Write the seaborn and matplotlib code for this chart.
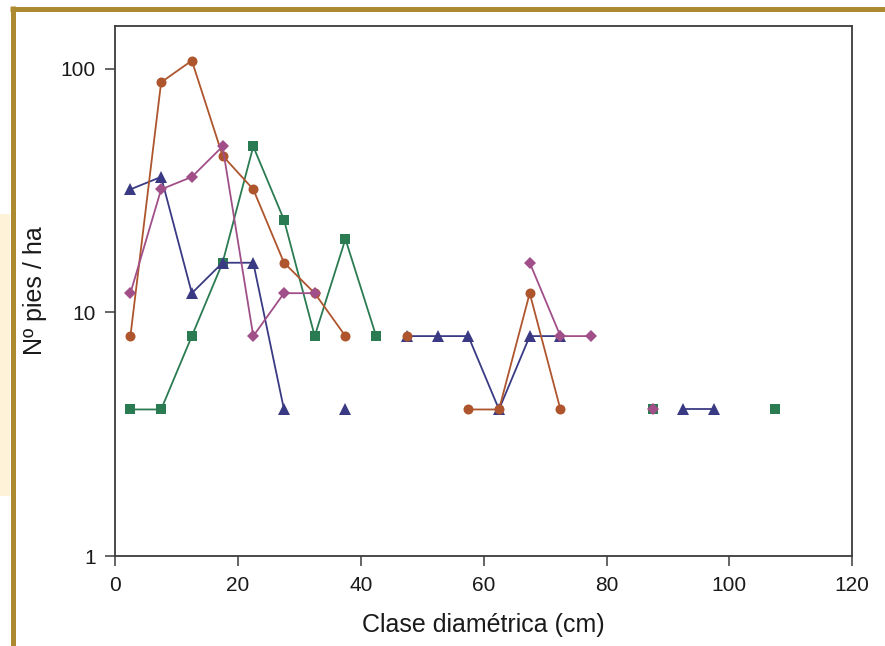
import matplotlib.pyplot as plt
import numpy as np
import pandas as pd
import seaborn as sns
from matplotlib.lines import Line2D
from matplotlib.patches import Rectangle
from matplotlib.ticker import NullLocator

# clases diametricas (centro de clase, cm)
clase = [2.5, 7.5, 12.5, 17.5, 22.5, 27.5, 32.5, 37.5, 42.5, 47.5, 52.5,
         57.5, 62.5, 67.5, 72.5, 77.5, 82.5, 87.5, 92.5, 97.5, 102.5, 107.5]

nan = np.nan
# Nº pies / ha por serie (nan = clase sin pies)
pies_circulos = [8, 88, 108, 44, 32, 16, 12, 8, nan, 8, nan,
                 4, 4, 12, 4, nan, nan, nan, nan, nan, nan, nan]
pies_cuadrados = [4, 4, 8, 16, 48, 24, 8, 20, 8, nan, nan,
                  nan, nan, nan, nan, nan, nan, 4, nan, nan, nan, 4]
pies_rombos = [12, 32, 36, 48, 8, 12, 12, nan, nan, nan, nan,
               nan, nan, 16, 8, 8, nan, 4, nan, nan, nan, nan]
pies_triangulos = [32, 36, 12, 16, 16, 4, nan, 4, nan, 8, 8,
                   8, 4, 8, 8, nan, nan, nan, 4, 4, nan, nan]

sns.set_style("ticks")
plt.rcParams["font.family"] = ["Liberation Sans", "DejaVu Sans"]

fig = plt.figure(figsize=(8.85, 6.46), dpi=100)
ax = fig.add_axes([0.130, 0.139, 0.833, 0.821])

# orden de dibujo: verde, azul, marron, morado
series = [
    (pies_cuadrados, "s", "#2B7B52", 6.5),
    (pies_triangulos, "^", "#3A3A84", 8),
    (pies_circulos, "o", "#AE552E", 7.2),
    (pies_rombos, "D", "#A04F88", 6.5),
]
for valores, marcador, color, tam in series:
    df = pd.DataFrame({"clase": clase, "pies": valores})
    # cada tramo sin huecos se dibuja como una linea aparte
    df["tramo"] = df["pies"].isna().cumsum()
    df = df.dropna()
    sns.lineplot(data=df, x="clase", y="pies", units="tramo", estimator=None,
                 color=color, marker=marcador, markersize=tam,
                 markeredgewidth=0, linewidth=1.3, sort=False, ax=ax)

ax.set_yscale("log")
ax.set_ylim(1, 150)
ax.set_xlim(0, 120)
ax.set_xticks([0, 20, 40, 60, 80, 100, 120])
ax.set_yticks([1, 10, 100], labels=["1", "10", "100"])
ax.yaxis.set_minor_locator(NullLocator())

for sp in ax.spines.values():
    sp.set_color("#3c3c3c")
    sp.set_linewidth(1.3)
ax.tick_params(axis="both", labelsize=15, length=7, width=1.1, pad=7,
               color="#3c3c3c", labelcolor="#1a1a1a", top=False, right=False)
ax.set_xlabel("Clase diamétrica (cm)", fontsize=18, color="#1a1a1a", labelpad=13)
ax.set_ylabel("Nº pies / ha", fontsize=18, color="#1a1a1a", labelpad=10)

# marco dorado y franja amarilla del documento original
fig.add_artist(Rectangle((0, 0.232), 10 / 885, 0.436, transform=fig.transFigure,
                         facecolor="#FEF3D8", edgecolor="none", zorder=0))
oro = "#AD8A2F"
fig.add_artist(Line2D([12.5 / 885, 12.5 / 885], [0, 1 - 6 / 646],
                      transform=fig.transFigure, color=oro, linewidth=3.6,
                      solid_capstyle="butt"))
fig.add_artist(Line2D([10 / 885, 1], [1 - 8.5 / 646, 1 - 8.5 / 646],
                      transform=fig.transFigure, color=oro, linewidth=3.6,
                      solid_capstyle="butt"))

fig.savefig("out.png", dpi=100)
